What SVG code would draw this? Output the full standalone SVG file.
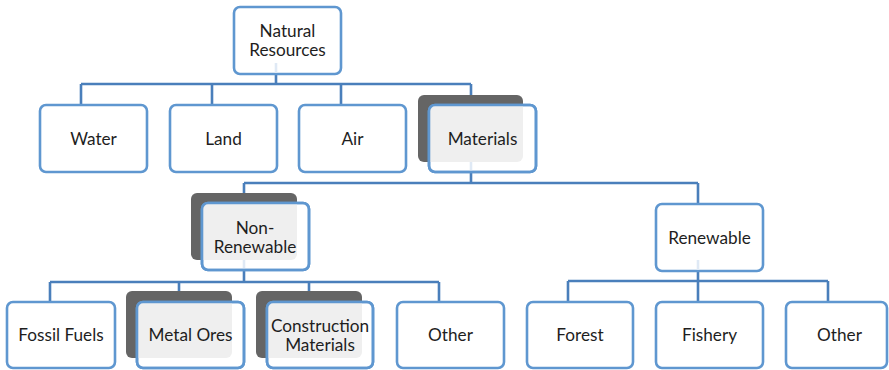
<svg xmlns="http://www.w3.org/2000/svg" width="889" height="370" viewBox="0 0 889 370">
  <style>
    .box { fill: #ffffff; stroke: #5f97d0; stroke-width: 2.6; }
    .shadow { fill: #656565; }
    .overlap { fill: #efefef; }
    .edge { fill: none; stroke: #4a7fbb; stroke-width: 2.6; }
    .ghost { fill: none; stroke: #dfe9f5; stroke-width: 2.6; }
    text { font-family: "Lato", "Liberation Sans", sans-serif; font-size: 17.2px; fill: #1e1e1e; text-anchor: middle; }
  </style>
  <rect width="889" height="370" fill="#ffffff"/>

  <g id="connectors">
    <!-- Natural Resources to the first level -->
    <path class="edge" d="M276,74 V84 M81,84 H471 M81,84 V105 M212,84 V105 M341,84 V105 M471,84 V95"/>
    <!-- Materials to Non-Renewable / Renewable -->
    <path class="edge" d="M471,173 V183 M244,183 H698 M244,183 V193 M698,183 V204"/>
    <!-- Non-Renewable children -->
    <path class="edge" d="M244,270 V282 M50,282 H439 M50,282 V302 M179,282 V291 M309,282 V291 M439,282 V302"/>
    <!-- Renewable children -->
    <path class="edge" d="M698,271 V281 M568,281 H828 M568,281 V302 M698,281 V302 M828,281 V302"/>
  </g>

  <g id="natural-resources">
    <rect class="box" x="234" y="7" width="107" height="67" rx="6"/>
    <path class="ghost" d="M276,63 V73"/>
    <text x="287.5" y="36.5">Natural</text>
    <text x="287.5" y="55.5">Resources</text>
  </g>

  <g id="water">
    <rect class="box" x="40" y="105" width="107" height="67" rx="6"/>
    <text x="93.5" y="144.5">Water</text>
  </g>

  <g id="land">
    <rect class="box" x="170" y="105" width="107" height="67" rx="6"/>
    <text x="223.5" y="144.5">Land</text>
  </g>

  <g id="air">
    <rect class="box" x="299" y="105" width="107" height="67" rx="6"/>
    <text x="352.5" y="144.5">Air</text>
  </g>

  <g id="materials">
    <rect class="shadow" x="418" y="95" width="105" height="67" rx="6"/>
    <rect class="box" x="429" y="105" width="107" height="67" rx="6"/>
    <path class="overlap" d="M429,111 a6,6 0 0 1 6,-6 H523 V156 a6,6 0 0 1 -6,6 H429 Z"/>
    <path class="ghost" d="M471,162 V171"/>
    <rect class="box" x="429" y="105" width="107" height="67" rx="6" style="fill:none"/>
    <text x="482.5" y="144.5">Materials</text>
  </g>

  <g id="non-renewable">
    <rect class="shadow" x="191" y="193" width="106" height="67" rx="6"/>
    <rect class="box" x="202" y="203" width="107" height="67" rx="6"/>
    <path class="overlap" d="M202,209 a6,6 0 0 1 6,-6 H297 V254 a6,6 0 0 1 -6,6 H202 Z"/>
    <path class="ghost" d="M244,260 V268"/>
    <rect class="box" x="202" y="203" width="107" height="67" rx="6" style="fill:none"/>
    <text x="255" y="233.5">Non-</text>
    <text x="255" y="252.5">Renewable</text>
  </g>

  <g id="renewable">
    <rect class="box" x="656" y="204" width="107" height="67" rx="6"/>
    <path class="ghost" d="M698,260 V270"/>
    <text x="709.5" y="243.5">Renewable</text>
  </g>

  <g id="fossil-fuels">
    <rect class="box" x="7" y="302" width="108" height="66" rx="6"/>
    <text x="61" y="341">Fossil Fuels</text>
  </g>

  <g id="metal-ores">
    <rect class="shadow" x="126" y="291" width="106" height="67" rx="6"/>
    <rect class="box" x="137" y="302" width="107" height="66" rx="6"/>
    <path class="overlap" d="M137,308 a6,6 0 0 1 6,-6 H232 V352 a6,6 0 0 1 -6,6 H137 Z"/>
    <rect class="box" x="137" y="302" width="107" height="66" rx="6" style="fill:none"/>
    <text x="190.5" y="341">Metal Ores</text>
  </g>

  <g id="construction-materials">
    <rect class="shadow" x="256" y="291" width="106" height="67" rx="6"/>
    <rect class="box" x="267" y="302" width="106" height="66" rx="6"/>
    <path class="overlap" d="M267,308 a6,6 0 0 1 6,-6 H362 V352 a6,6 0 0 1 -6,6 H267 Z"/>
    <rect class="box" x="267" y="302" width="106" height="66" rx="6" style="fill:none"/>
    <text x="320" y="331.5">Construction</text>
    <text x="320" y="350.5">Materials</text>
  </g>

  <g id="other-non-renewable">
    <rect class="box" x="397" y="302" width="107" height="66" rx="6"/>
    <text x="450.5" y="341">Other</text>
  </g>

  <g id="forest">
    <rect class="box" x="527" y="302" width="106" height="66" rx="6"/>
    <text x="580" y="341">Forest</text>
  </g>

  <g id="fishery">
    <rect class="box" x="656" y="302" width="107" height="66" rx="6"/>
    <text x="709.5" y="341">Fishery</text>
  </g>

  <g id="other-renewable">
    <rect class="box" x="786" y="302" width="101" height="66" rx="6"/>
    <text x="839.5" y="341">Other</text>
  </g>
</svg>
